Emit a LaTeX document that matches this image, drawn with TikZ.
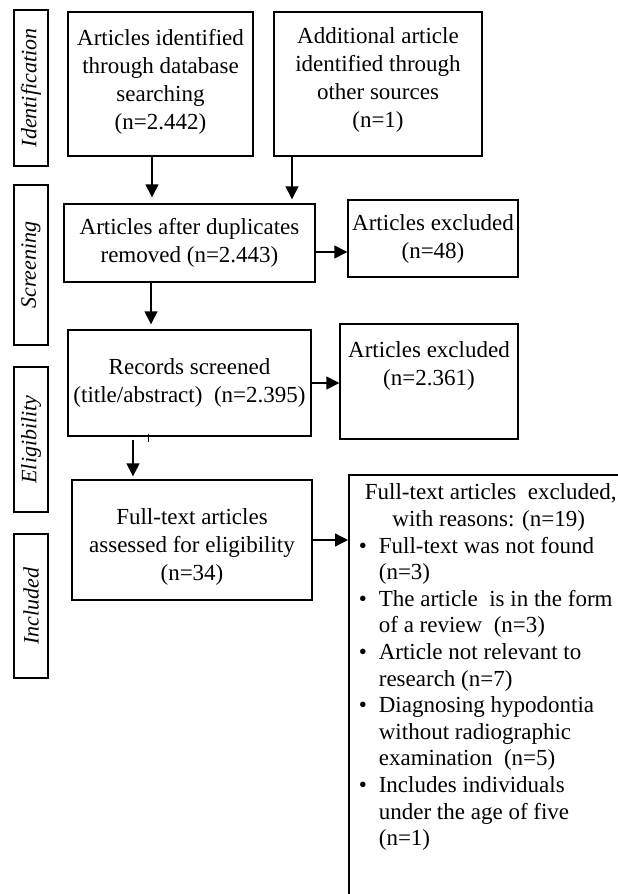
\documentclass[tikz,border=0pt]{standalone}
\usepackage{fontspec}
\setmainfont{Liberation Serif}
\usetikzlibrary{arrows.meta}
\newcommand{\boxfont}{\fontsize{23}{28}\selectfont}
\newcommand{\listfont}{\fontsize{23}{26.6}\selectfont}
\newcommand{\sidefont}{\fontsize{22}{26}\selectfont\itshape}

\tikzset{
  flowbox/.style={draw, line width=1.4pt, inner sep=0pt, align=center, font=\boxfont},
  sidebox/.style={draw, line width=1.4pt, inner sep=0pt, rotate=90, minimum height=34pt, font=\sidefont},
  reasonbox/.style={draw, line width=1.6pt, anchor=north west, inner xsep=10pt, inner ysep=0pt, font=\listfont},
  arr/.style={-{Triangle[width=13pt,length=13pt]}, line width=1.4pt},
}

\begin{document}
\begin{tikzpicture}[x=1pt,y=-1pt]
	\useasboundingbox (0,0) rectangle (618,894);
	\clip (0,0) rectangle (618,894);

	% --- Phase labels (left column) ---
	\node[sidebox, minimum width=156pt] (sident) at (31,88) {Identification};
	\node[sidebox, minimum width=160pt] (sscreen) at (31,265) {Screening};
	\node[sidebox, minimum width=145pt] (selig) at (31,439.5) {Eligibility};
	\node[sidebox, minimum width=144pt] (sincl) at (31,606) {Included};

	% --- Identification ---
	\node[flowbox, minimum width=185pt, minimum height=144pt] (dbsearch) at (160.5,84)
		{Articles identified\\through database\\searching\\(n=2.442)\\[-19pt]};
	\node[flowbox, minimum width=208pt, minimum height=144pt] (othersrc) at (378,84)
		{Additional article\\identified through\\other sources\\(n=1)\\[-16pt]};

	% --- Screening ---
	\node[flowbox, minimum width=251pt, minimum height=78pt] (dupes) at (189.5,243)
		{Articles after duplicates\\removed (n=2.443)};
	\node[flowbox, minimum width=170pt, minimum height=77pt] (excla) at (433,238.5)
		{Articles excluded\\(n=48)};

	% --- Eligibility ---
	\node[flowbox, minimum width=243pt, minimum height=106pt] (screened) at (189.5,383)
		{Records screened\\(title/abstract)\ \ (n=2.395)};
	\node[flowbox, minimum width=178pt, minimum height=115pt] (exclb) at (429,381.5)
		{Articles excluded\\(n=2.361)\\[8pt]};

	% --- Included ---
	\node[flowbox, minimum width=240pt, minimum height=120pt] (fulltext) at (192,540)
		{\rule{0pt}{30pt}Full-text articles\\assessed for eligibility\\(n=34)};
	\node[reasonbox, text height=25pt, text depth=430pt] (reasons) at (348,474) {%
		\begin{tabular}[t]{@{}c@{\hspace{12pt}}l@{\hspace{30pt}}}
			\multicolumn{2}{@{}c@{\hspace{20pt}}}{Full-text articles\ \ excluded,}\\
			\multicolumn{2}{@{}c@{\hspace{24pt}}}{with reasons: (n=19)}\\
			\textbullet & Full-text was not found\\
			& (n=3)\\
			\textbullet & The article\ \ is in the form\\
			& of a review\ \ (n=3)\\
			\textbullet & Article not relevant to\\
			& research (n=7)\\
			\textbullet & Diagnosing hypodontia\\
			& without radiographic\\
			& examination\ \ (n=5)\\
			\textbullet & Includes individuals\\
			& under the age of five\\
			& (n=1)
		\end{tabular}};

	% --- Connectors ---
	\draw[arr, shorten >=6pt] ([xshift=-8.5pt]dbsearch.south) -- ([xshift=-8.5pt]dbsearch.south |- dupes.north);
	\draw[arr, shorten >=4pt] ([xshift=-86pt]othersrc.south) -- ([xshift=-86pt]othersrc.south |- dupes.north);
	\draw[arr] ([yshift=-9pt]dupes.east) -- ([yshift=-9pt]dupes.east -| excla.west);
	\draw[arr, shorten >=5pt] ([xshift=-38.5pt]dupes.south) -- ([xshift=-38.5pt]dupes.south |- screened.north);
	\draw[arr] (screened.east) -- (screened.east -| exclb.west);
	\draw[arr, shorten <=3pt, shorten >=3pt] ([xshift=-56.5pt]screened.south) -- ([xshift=-56.5pt]screened.south |- fulltext.north);
	\draw[arr] (fulltext.east) -- (fulltext.east -| reasons.west);
	\draw[line width=1pt] ([xshift=-41.5pt, yshift=3pt]screened.south) -- ++(0,8);
\end{tikzpicture}
\end{document}
